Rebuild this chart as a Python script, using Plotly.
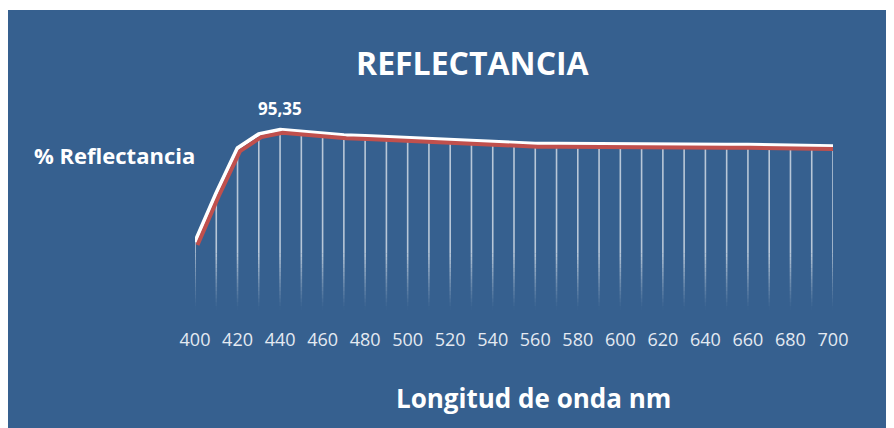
import plotly.graph_objects as go

# ---- data ----
wavelength_nm = [400, 410, 420, 430, 440, 450, 460, 470, 480, 490,
                 500, 510, 520, 530, 540, 550, 560, 570, 580, 590,
                 600, 610, 620, 630, 640, 650, 660, 670, 680, 690, 700]
reflectance = [36.0, 61.9, 85.7, 93.1, 95.35, 94.3, 93.3, 92.5, 92.0, 91.5,
               91.0, 90.4, 90.2, 89.4, 88.8, 88.3, 88.0, 88.0, 87.9, 87.5,
               87.4, 87.4, 87.4, 87.4, 87.4, 87.4, 87.4, 87.1, 86.9, 86.8, 86.7]
tick_values = [400, 420, 440, 460, 480, 500, 520, 540, 560, 580,
               600, 620, 640, 660, 680, 700]
tick_labels = [str(v) for v in tick_values]
peak_label = "95,35"
title_text = "REFLECTANCIA"
y_label = "% Reflectancia"
x_label = "Longitud de onda nm"

# ---- layout geometry (pixels; page adds an 8px offset) ----
OFF = 8
W, H = 894, 428
L, R, T, B = 195 - OFF, 894 - (833 - OFF), 121 - OFF, 428 - (310 - OFF)
PW, PH = W - L - R, H - T - B
X_RANGE = [400, 700]
Y_RANGE = [0, 100]
px_per_x = PW / (X_RANGE[1] - X_RANGE[0])
px_per_y = PH / (Y_RANGE[1] - Y_RANGE[0])

def xp(X):  # reference-screen x -> paper
    return (X - OFF - L) / PW

def yp(Y):  # reference-screen y -> paper
    return (H - B - (Y - OFF)) / PH

BLUE = "rgb(54,96,143)"
RED = "rgb(192,80,77)"
FONT = "Open Sans"

fig = go.Figure()

# drop lines with fading gradient toward the bottom
fade_top = 30.0
n_seg = 15
for k in range(n_seg + 1):
    if k < n_seg:
        lo = fade_top * k / n_seg
        hi = fade_top * (k + 1) / n_seg
        alpha = 0.65 * ((k + 0.5) / n_seg) ** 1.2
    else:
        lo = fade_top
        hi = None
        alpha = 0.65
    xs, ys = [], []
    for x, v in zip(wavelength_nm, reflectance):
        top = v if hi is None else min(hi, v)
        if top <= lo:
            continue
        xs += [x, x, None]
        ys += [lo, top, None]
    fig.add_trace(go.Scatter(x=xs, y=ys, mode="lines",
                             line=dict(color=f"rgba(255,255,255,{alpha:.3f})", width=1.6),
                             hoverinfo="skip", showlegend=False))

# red shadow line (offset via shifted overlay axes)
dx_px, dy_px = 2.5, 3.0
fig.add_trace(go.Scatter(x=wavelength_nm, y=reflectance, mode="lines",
                         line=dict(color=RED, width=4),
                         xaxis="x2", yaxis="y2", showlegend=False, hoverinfo="skip"))

# main white line
fig.add_trace(go.Scatter(x=wavelength_nm, y=reflectance, mode="lines",
                         line=dict(color="white", width=4),
                         showlegend=False))

peak_i = reflectance.index(max(reflectance))

annotations = [
    dict(text=f"<b>{title_text}</b>", x=xp(473), y=yp(63), xref="paper", yref="paper",
         showarrow=False, font=dict(family=FONT, size=32, color="white"),
         xanchor="center", yanchor="middle"),
    dict(text=f"<b>{y_label}</b>", x=xp(114), y=yp(155), xref="paper", yref="paper",
         showarrow=False, font=dict(family=FONT, size=22, color="white"),
         xanchor="center", yanchor="middle"),
    dict(text=f"<b>{x_label}</b>", x=xp(533), y=yp(398), xref="paper", yref="paper",
         showarrow=False, font=dict(family=FONT, size=26, color="white"),
         xanchor="center", yanchor="middle"),
    dict(text=f"<b>{peak_label}</b>", x=wavelength_nm[peak_i], y=reflectance[peak_i],
         xref="x", yref="y", showarrow=False, yshift=21,
         font=dict(family=FONT, size=17, color="white"),
         xanchor="center", yanchor="middle"),
]

shapes = [
    dict(type="rect", xref="paper", yref="paper", x0=xp(-20), x1=xp(W + 20), y0=yp(10), y1=yp(-20),
         fillcolor="white", line=dict(width=0), layer="below"),
]

fig.update_layout(
    width=W, height=H,
    margin=dict(l=L, r=R, t=T, b=B),
    paper_bgcolor=BLUE, plot_bgcolor=BLUE,
    font=dict(family=FONT, color="white"),
    showlegend=False,
    annotations=annotations,
    shapes=shapes,
    xaxis=dict(range=X_RANGE, tickvals=tick_values, ticktext=tick_labels,
               showgrid=False, zeroline=False, showline=False, ticks="",
               tickfont=dict(family=FONT, size=18, color="rgb(228,234,242)"),
               ticklabelstandoff=17),
    yaxis=dict(range=Y_RANGE, visible=False, showgrid=False, zeroline=False),
    xaxis2=dict(range=[X_RANGE[0] - dx_px / px_per_x, X_RANGE[1] - dx_px / px_per_x],
                overlaying="x", visible=False),
    yaxis2=dict(range=[Y_RANGE[0] + dy_px / px_per_y, Y_RANGE[1] + dy_px / px_per_y],
                overlaying="y", visible=False),
)

fig.write_html("out.html")
